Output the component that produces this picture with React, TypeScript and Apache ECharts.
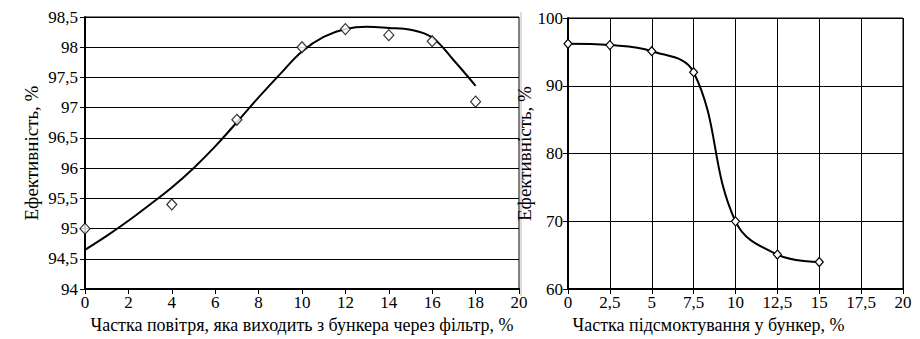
import React, { useEffect, useRef } from "react";
import * as echarts from "echarts";

// Left chart: share of air leaving the bunker through the filter
const leftCurveX = [0, 1, 2, 3, 4, 5, 6, 7, 8, 9, 10, 11, 12, 13, 14, 15, 16, 17, 18];
const leftCurveY = [94.65, 94.88, 95.13, 95.4, 95.68, 96.0, 96.36, 96.76, 97.17, 97.56, 97.93, 98.17, 98.3, 98.34, 98.32, 98.29, 98.16, 97.78, 97.36];
const leftPointsX = [0, 4, 7, 10, 12, 14, 16, 18];
const leftPointsY = [95, 95.4, 96.8, 98, 98.3, 98.2, 98.1, 97.1];

// Right chart: share of suction into the bunker
const rightX = [0, 2.5, 5, 7.5, 10, 12.5, 15];
const rightY = [96.2, 96.0, 95.1, 92.0, 70.0, 65.1, 64.0];

const yName = "Ефективність, %";
const leftXName = "Частка повітря, яка виходить з бункера через фільтр, %";
const rightXName = "Частка підсмоктування у бункер, %";

const FONT = "Liberation Serif, serif";

export default function App() {
  const ref = useRef<HTMLDivElement>(null);
  useEffect(() => {
    document.body.style.margin = "0";
    if (!ref.current) return;
    const chart = echarts.init(ref.current, null, { renderer: "svg" });
    const axisLine = { show: true, lineStyle: { color: "#000", width: 2 } };
    const tick = { show: true, inside: false, length: 5, lineStyle: { color: "#000", width: 1 } };
    const split = { show: true, lineStyle: { color: "#000", width: 1 } };
    chart.setOption({
      animation: false,
      backgroundColor: "#fff",
      textStyle: { fontFamily: FONT, color: "#000" },
      grid: [
        { left: 85, top: 17, width: 434, height: 276, show: true, borderColor: "#000", borderWidth: 1 },
        { left: 568, top: 18, width: 335, height: 275, show: true, borderColor: "#000", borderWidth: 1 },
      ],
      xAxis: [
        {
          type: "value", gridIndex: 0, min: 0, max: 20, interval: 2,
          axisLine, axisTick: tick, splitLine: { show: false },
          axisLabel: { fontSize: 17, fontFamily: FONT, color: "#000", margin: 5 },
          name: leftXName, nameLocation: "middle", nameGap: 26,
          nameTextStyle: { fontSize: 18, fontFamily: FONT, color: "#000" },
        },
        {
          type: "value", gridIndex: 1, min: 0, max: 20, interval: 2.5,
          axisLine, axisTick: tick, splitLine: split,
          axisLabel: {
            fontSize: 17, fontFamily: FONT, color: "#000", margin: 5,
            formatter: (v: number) => String(v).replace(".", ","),
          },
          name: rightXName, nameLocation: "middle", nameGap: 26,
          nameTextStyle: { fontSize: 18, fontFamily: FONT, color: "#000", padding: [0, 54, 0, 0] },
        },
      ],
      yAxis: [
        {
          type: "value", gridIndex: 0, min: 94, max: 98.5, interval: 0.5,
          axisLine, axisTick: tick, splitLine: split,
          axisLabel: {
            fontSize: 17, fontFamily: FONT, color: "#000", margin: 7,
            formatter: (v: number) => String(v).replace(".", ","),
          },
          name: yName, nameLocation: "middle", nameGap: 44,
          nameTextStyle: { fontSize: 19, fontFamily: FONT, color: "#000" },
        },
        {
          type: "value", gridIndex: 1, min: 60, max: 100, interval: 10,
          axisLine, axisTick: tick, splitLine: split,
          axisLabel: { fontSize: 17, fontFamily: FONT, color: "#000", margin: 5 },
          name: yName, nameLocation: "middle", nameGap: 24,
          nameTextStyle: { fontSize: 19, fontFamily: FONT, color: "#000" },
        },
      ],
      series: [
        {
          type: "line", xAxisIndex: 0, yAxisIndex: 0, smooth: 0.4,
          data: leftCurveX.map((x, i) => [x, leftCurveY[i]]),
          showSymbol: false, symbol: "none",
          lineStyle: { color: "#000", width: 2 }, z: 3,
        },
        {
          type: "scatter", xAxisIndex: 0, yAxisIndex: 0,
          data: leftPointsX.map((x, i) => [x, leftPointsY[i]]),
          symbol: "diamond", symbolSize: [10, 11],
          itemStyle: { color: "#fff", borderColor: "#000", borderWidth: 1.2 }, z: 4,
        },
        {
          type: "line", xAxisIndex: 1, yAxisIndex: 1, smooth: 0.4,
          data: rightX.map((x, i) => [x, rightY[i]]),
          symbol: "diamond", symbolSize: [8, 9], showSymbol: true,
          lineStyle: { color: "#000", width: 2 },
          itemStyle: { color: "#fff", borderColor: "#000", borderWidth: 1.2 }, z: 4,
        },
      ],
      graphic: [
        { type: "line", shape: { x1: 521, y1: 12, x2: 521, y2: 296 }, style: { stroke: "#bbb", lineWidth: 1 } },
      ],
    });
    return () => chart.dispose();
  }, []);
  return <div ref={ref} style={{ width: 920, height: 339, background: "#fff" }} />;
}
